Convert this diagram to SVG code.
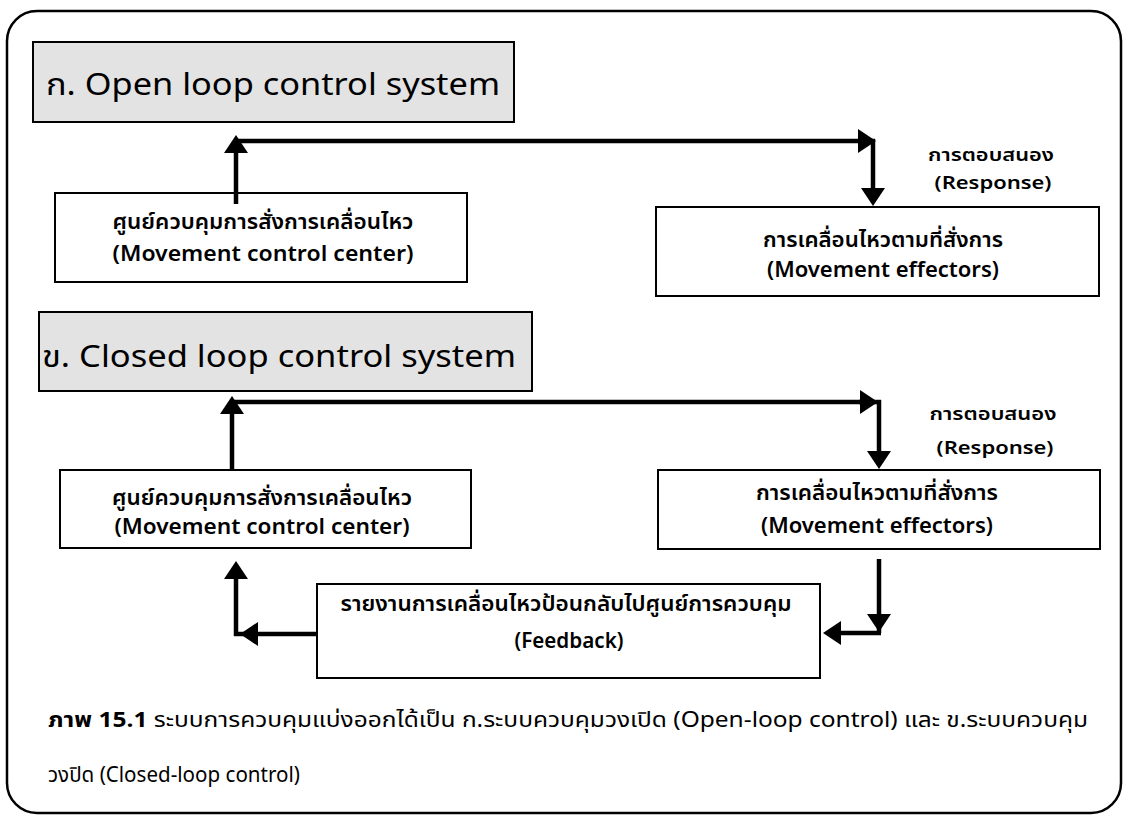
<svg xmlns="http://www.w3.org/2000/svg" width="1123" height="816" viewBox="0 0 1123 816">
<defs>
<marker id="ah" viewBox="0 0 18 24" refX="1" refY="12" markerWidth="18" markerHeight="24" orient="auto" markerUnits="userSpaceOnUse"><path d="M0,0 L18,12 L0,24 Z" fill="#000"/></marker>
<style>
.frame{fill:#fff;stroke:#000;stroke-width:2.5}
.title{fill:#e3e3e3;stroke:#000;stroke-width:2}
.box{fill:#fff;stroke:#000;stroke-width:2}
.tt{font-family:"Noto Sans Thai","Noto Sans","Open Sans","DejaVu Sans",sans-serif;font-size:30px;fill:#000}
.bt{font-family:"Noto Sans Thai","Noto Sans","Open Sans","DejaVu Sans",sans-serif;font-size:21px;font-weight:600;fill:#000;text-anchor:middle}
.rt{font-family:"Noto Sans Thai","Noto Sans","Open Sans","DejaVu Sans",sans-serif;font-size:18px;font-weight:600;fill:#000;text-anchor:middle}
.cap{font-family:"Noto Sans Thai","Noto Sans","Open Sans","DejaVu Sans",sans-serif;font-size:21px;fill:#000}
.con{fill:none;stroke:#000;stroke-width:4.5;marker-end:url(#ah)}
.ln{fill:none;stroke:#000;stroke-width:4.5}
</style>
</defs>
<rect class="frame" x="7" y="11" width="1114" height="802" rx="30"/>

<g id="title-open">
<rect class="title" x="33" y="42" width="481" height="80"/>
<text class="tt" x="46" y="95" textLength="454" lengthAdjust="spacingAndGlyphs">ก. Open loop control system</text>
</g>
<g id="open-center">
<rect class="box" x="55" y="193" width="412" height="89"/>
<text class="bt" x="263" y="229" textLength="301" lengthAdjust="spacingAndGlyphs">ศูนย์ควบคุมการสั่งการเคลื่อนไหว</text>
<text class="bt" x="263" y="261" textLength="301" lengthAdjust="spacingAndGlyphs">(Movement control center)</text>
</g>
<g id="open-effectors">
<rect class="box" x="656" y="207" width="443" height="89"/>
<text class="bt" x="883" y="247" textLength="240" lengthAdjust="spacingAndGlyphs">การเคลื่อนไหวตามที่สั่งการ</text>
<text class="bt" x="883" y="277" textLength="232" lengthAdjust="spacingAndGlyphs">(Movement effectors)</text>
</g>
<g id="open-response">
<text class="rt" x="991" y="161" textLength="126" lengthAdjust="spacingAndGlyphs">การตอบสนอง</text>
<text class="rt" x="993" y="189" textLength="117" lengthAdjust="spacingAndGlyphs">(Response)</text>
</g>

<g id="title-closed">
<rect class="title" x="39" y="312" width="493" height="79"/>
<text class="tt" x="42" y="367" textLength="474" lengthAdjust="spacingAndGlyphs">ข. Closed loop control system</text>
</g>
<g id="closed-center">
<rect class="box" x="60" y="470" width="411" height="78"/>
<text class="bt" x="262" y="505" textLength="300" lengthAdjust="spacingAndGlyphs">ศูนย์ควบคุมการสั่งการเคลื่อนไหว</text>
<text class="bt" x="262" y="534" textLength="295" lengthAdjust="spacingAndGlyphs">(Movement control center)</text>
</g>
<g id="closed-effectors">
<rect class="box" x="658" y="470" width="442" height="79"/>
<text class="bt" x="877" y="500" textLength="242" lengthAdjust="spacingAndGlyphs">การเคลื่อนไหวตามที่สั่งการ</text>
<text class="bt" x="877" y="533" textLength="232" lengthAdjust="spacingAndGlyphs">(Movement effectors)</text>
</g>
<g id="closed-response">
<text class="rt" x="993" y="420" textLength="127" lengthAdjust="spacingAndGlyphs">การตอบสนอง</text>
<text class="rt" x="995" y="454" textLength="117" lengthAdjust="spacingAndGlyphs">(Response)</text>
</g>
<g id="feedback">
<rect class="box" x="317" y="584" width="503" height="94"/>
<text class="bt" x="566" y="611" textLength="451" lengthAdjust="spacingAndGlyphs">รายงานการเคลื่อนไหวป้อนกลับไปศูนย์การควบคุม</text>
<text class="bt" x="569" y="648" textLength="109" lengthAdjust="spacingAndGlyphs">(Feedback)</text>
</g>

<g id="connectors">
<path class="con" d="M236,204 V152"/>
<path class="ln" d="M234,141 H236"/>
<path class="con" d="M236,141 H859"/>
<path class="ln" d="M859,141 H875"/>
<path class="con" d="M873,139 V189"/>

<path class="con" d="M232,470 V413"/>
<path class="con" d="M232,402 H861"/>
<path class="ln" d="M859,402 H881"/>
<path class="con" d="M879,400 V452"/>

<path class="con" d="M879,559 V615"/>
<path class="ln" d="M879,615 V633"/>
<path class="con" d="M881,633 H840"/>

<path class="con" d="M317,634 H257"/>
<path class="ln" d="M257,634 H234"/>
<path class="con" d="M236,636 V578"/>
</g>

<g id="caption">
<text class="cap" x="48" y="727" textLength="1040" lengthAdjust="spacingAndGlyphs"><tspan font-weight="bold">ภาพ 15.1</tspan> ระบบการควบคุมแบ่งออกได้เป็น ก.ระบบควบคุมวงเปิด (Open-loop control) และ ข.ระบบควบคุม</text>
<text class="cap" x="48" y="782" textLength="252" lengthAdjust="spacingAndGlyphs">วงปิด (Closed-loop control)</text>
</g>
</svg>
